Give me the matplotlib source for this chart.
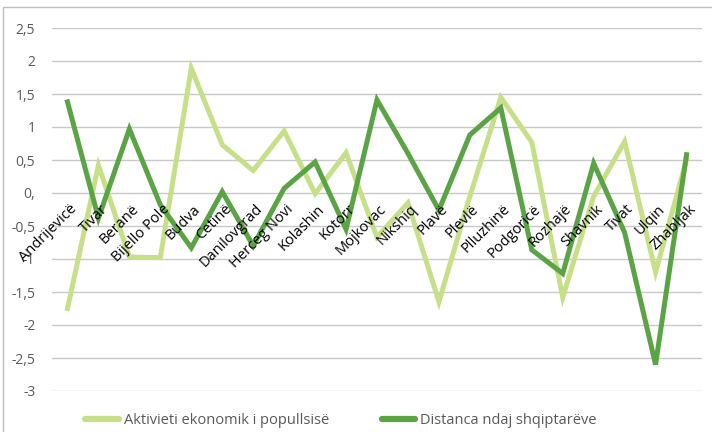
import matplotlib
matplotlib.use("Agg")
import matplotlib.pyplot as plt
from matplotlib.patches import Rectangle

plt.rcParams.update({
    "font.family": ["Open Sans", "DejaVu Sans"],
})

municipalities = [
    "Andrijevicë", "Tivar", "Beranë", "Bijello Pole", "Budva", "Cetinë",
    "Danilovgrad", "Herceg Novi", "Kolashin", "Kotorr", "Mojkovac", "Nikshiq",
    "Plavë", "Plevlë", "Plluzhinë", "Podgoricë", "Rozhajë", "Shavnik",
    "Tivat", "Ulqin", "Zhabljak",
]
economic_activity = [
    -1.75, 0.42, -0.97, -0.98, 1.89, 0.73, 0.34, 0.94, -0.01, 0.61, -0.67,
    -0.15, -1.65, -0.05, 1.45, 0.77, -1.58, -0.05, 0.78, -1.2, 0.5,
]
distance_albanians = [
    1.38, -0.38, 0.97, -0.18, -0.83, 0.02, -0.8, 0.07, 0.47, -0.55, 1.41,
    0.6, -0.26, 0.88, 1.29, -0.86, -1.22, 0.45, -0.6, -2.6, 0.58,
]
series_labels = ["Aktivieti ekonomik i popullsisë", "Distanca ndaj shqiptarëve"]
y_ticks = [2.5, 2, 1.5, 1, 0.5, 0, -0.5, -1, -1.5, -2, -2.5, -3]
y_tick_labels = ["2,5", "2", "1,5", "1", "0,5", "0,", "-0,5", "-1", "-1,5", "-2", "-2,5", "-3"]

LIGHT = "#c8df8a"
DARK = "#5ba445"
GRID = "#c9c9c9"
TEXT = "#595959"

fig = plt.figure(figsize=(7.12, 4.32), dpi=100)

# chart frame (cut off at right/bottom like the source)
fig.patches.append(Rectangle((3 / 712, -0.1), 1.2, 1 - 7 / 432 + 0.1,
                             transform=fig.transFigure, fill=False,
                             edgecolor="#bfbfbf", linewidth=1.0))

ax = fig.add_axes([52 / 712, 1 - 391 / 432, 650 / 712, 363 / 432])
x = list(range(len(municipalities)))

ax.plot(x, economic_activity, color=LIGHT, linewidth=3.6, label=series_labels[0],
        solid_joinstyle="miter", zorder=3)
ax.plot(x, distance_albanians, color=DARK, linewidth=3.6, label=series_labels[1],
        solid_joinstyle="miter", zorder=4)

ax.set_xlim(-0.5, len(municipalities) - 0.5)
ax.set_ylim(-3, 2.5)
ax.set_yticks(y_ticks)
ax.set_yticklabels(y_tick_labels, color=TEXT, fontsize=10)
ax.tick_params(axis="y", length=0, pad=12)
ax.set_xticks([])
ax.yaxis.grid(True, color=GRID, linewidth=1.0)
ax.set_axisbelow(True)
for s in ax.spines.values():
    s.set_visible(False)

# category labels sit on the zero line, rotated
for i, name in enumerate(municipalities):
    ax.annotate(name, xy=(i, 0), xytext=(5, -10), textcoords="offset points",
                rotation=45, ha="right", va="center", rotation_mode="anchor",
                fontsize=10.5, color="black", zorder=5)

leg = fig.legend(loc="lower left", bbox_to_anchor=(72 / 712, -0.022), ncol=2,
                 frameon=False, fontsize=10.5, handlelength=2.3,
                 columnspacing=3.6, handletextpad=0.35)
for t in leg.get_texts():
    t.set_color(TEXT)
for h in leg.get_lines():
    h.set_linewidth(4.5)
    h.set_solid_capstyle("round")

fig.savefig("out.png", dpi=100)
